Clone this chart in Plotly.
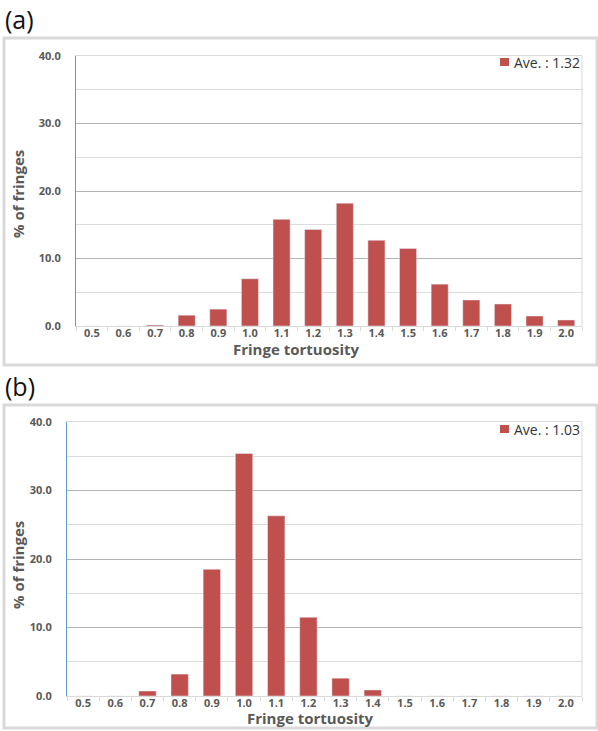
import plotly.graph_objects as go

categories = ["0.5", "0.6", "0.7", "0.8", "0.9", "1.0", "1.1", "1.2",
              "1.3", "1.4", "1.5", "1.6", "1.7", "1.8", "1.9", "2.0"]
vals_a = [0, 0, 0.15, 1.6, 2.5, 7.0, 15.8, 14.3, 18.2, 12.7, 11.5, 6.2, 3.85, 3.26, 1.48, 0.89]
vals_b = [0, 0, 0.73, 3.2, 18.5, 35.4, 26.3, 11.5, 2.6, 0.88, 0, 0, 0, 0, 0, 0]
legend_a = "Ave. : 1.32"
legend_b = "Ave. : 1.03"
panel_labels = ["(a)", "(b)"]
y_ticks = [0, 10, 20, 30, 40]
y_ticktext = ["0.0", "10.0", "20.0", "30.0", "40.0"]

W, H = 598, 731
BAR = "#c0504d"
GRAY = "#595959"
FONT = "Open Sans"

def px(x):
    return x / W

def py(y):
    return 1 - y / H

fig = go.Figure()
fig.add_trace(go.Bar(x=categories, y=vals_a, marker_color=BAR, xaxis="x", yaxis="y",
                     showlegend=False, name=legend_a))
fig.add_trace(go.Bar(x=categories, y=vals_b, marker_color=BAR, xaxis="x2", yaxis="y2",
                     showlegend=False, name=legend_b))

panels = [
    dict(x0=76, x1=582, y0=56, y1=326, frame=(4, 38, 597, 365), lab_y=19,
         xt=(296, 349), yt=(18, 194), leg=(500, 58), xa="xaxis", ya="yaxis", leg_text=legend_a),
    dict(x0=67, x1=582, y0=422, y1=696, frame=(4, 405, 597, 728), lab_y=386,
         xt=(310, 718), yt=(18, 565), leg=(500, 425), xa="xaxis2", ya="yaxis2", leg_text=legend_b),
]

shapes = []
annotations = []
for i, p in enumerate(panels):
    anchor_y = "y" if i == 0 else "y2"
    anchor_x = "x" if i == 0 else "x2"
    fig.layout[p["xa"]] = dict(
        domain=[px(p["x0"]), px(p["x1"])], anchor=anchor_y, type="category",
        automargin=False,
        showline=True, linecolor="#d9d9d9", linewidth=1, mirror=True,
        ticks="outside", tickson="boundaries", ticklen=4, tickcolor="#d9d9d9",
        ticklabelstandoff=-3,
        tickfont=dict(family=FONT, size=11, color=GRAY, weight="bold"),
        showgrid=False, fixedrange=True,
    )
    fig.layout[p["ya"]] = dict(
        domain=[py(p["y1"]), py(p["y0"])], anchor=anchor_x, range=[0, 40],
        automargin=False,
        tickvals=y_ticks, ticktext=y_ticktext,
        tickfont=dict(family=FONT, size=11, color=GRAY, weight="bold"),
        ticklabelstandoff=12,
        showline=True, linecolor="#5b9bd5", linewidth=1,
        showgrid=True, gridcolor="#b4b4b4", gridwidth=1,
        minor=dict(dtick=5, tick0=0, showgrid=True, gridcolor="#dcdcdc", gridwidth=1),
        zeroline=False, fixedrange=True,
    )
    fx0, fy0, fx1, fy1 = p["frame"]
    shapes.append(dict(type="rect", xref="paper", yref="paper",
                       x0=px(fx0), x1=px(fx1), y0=py(fy1), y1=py(fy0),
                       line=dict(color="#d9d9d9", width=3), layer="below"))
    shapes.append(dict(type="line", xref=f"{anchor_x} domain", yref=f"{anchor_y} domain",
                       x0=1, x1=1, y0=0, y1=1, line=dict(color="#d9d9d9", width=1)))
    lx, ly = p["leg"]
    shapes.append(dict(type="rect", xref="paper", yref="paper",
                       x0=px(lx), x1=px(lx + 9), y0=py(ly + 8), y1=py(ly),
                       fillcolor=BAR, line=dict(width=0)))
    annotations.append(dict(text=p["leg_text"], xref="paper", yref="paper",
                            x=px(lx + 12), y=py(ly + 4), xanchor="left", yanchor="middle",
                            showarrow=False, font=dict(family=FONT, size=14, color="#333333")))
    annotations.append(dict(text=panel_labels[i], xref="paper", yref="paper",
                            x=px(3), y=py(p["lab_y"]), xanchor="left", yanchor="middle",
                            showarrow=False, font=dict(family=FONT, size=25, color="#111111")))
    tx, ty = p["xt"]
    annotations.append(dict(text="Fringe tortuosity", xref="paper", yref="paper",
                            x=px(tx), y=py(ty), xanchor="center", yanchor="middle",
                            showarrow=False,
                            font=dict(family=FONT, size=15, color=GRAY, weight="bold")))
    yx, yy = p["yt"]
    annotations.append(dict(text="% of fringes", xref="paper", yref="paper",
                            x=px(yx), y=py(yy), xanchor="center", yanchor="middle",
                            textangle=-90, showarrow=False,
                            font=dict(family=FONT, size=15, color=GRAY, weight="bold")))

fig.update_layout(
    width=W, height=H, margin=dict(l=0, r=0, t=0, b=0),
    paper_bgcolor="white", plot_bgcolor="white",
    bargap=0.46, shapes=shapes, annotations=annotations, showlegend=False,
)

fig.write_html("out.html", config={"displayModeBar": False},
               post_script="document.body.style.margin='0';document.body.style.overflow='hidden';")
